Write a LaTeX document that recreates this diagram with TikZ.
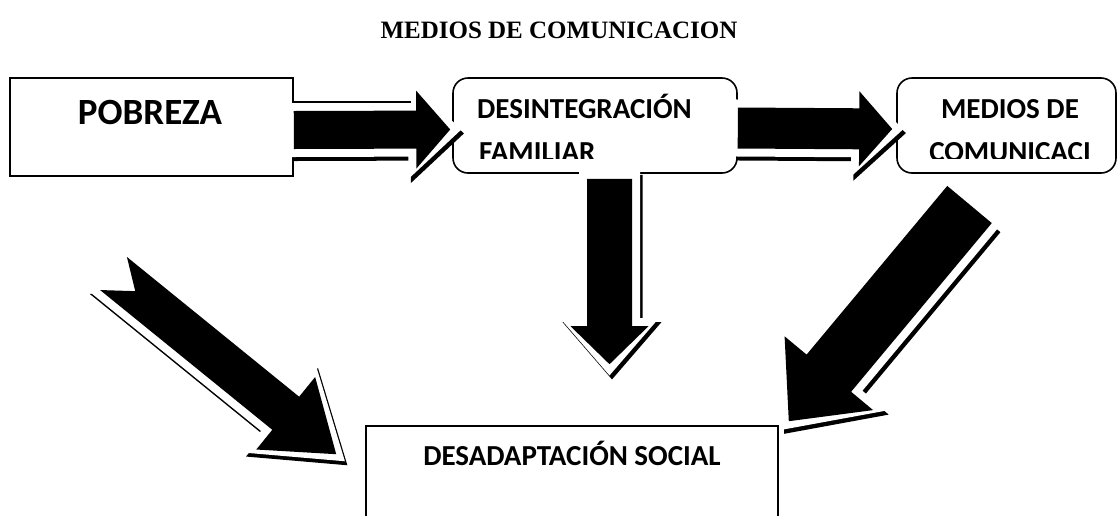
\documentclass[tikz,border=0pt]{standalone}
\usepackage{fontspec}
\setmainfont{Carlito}
\newfontfamily\titlefont{Liberation Serif}
\usetikzlibrary{calc}

% arrow outline: #1 tail, #2 tip, #3 shaft half width, #4 head half width, #5 head length, #6 notch, #7 path style
\newcommand{\arrowshape}[7]{%
  \coordinate (hbX) at ($(#2)!#5!(#1)$);
  \path[#7] ($(#1)!#3!90:(#2)$) -- ($(hbX)!#3!90:(#2)$) -- ($(hbX)!#4!90:(#2)$) -- (#2)
    -- ($(hbX)!#4!-90:(#2)$) -- ($(hbX)!#3!-90:(#2)$) -- ($(#1)!#3!-90:(#2)$)
    -- ($(#1)!#6!(#2)$) -- cycle;
}
\def\shx{2.5}
\def\shy{4}
% block arrow with white gap and shadow: #7 margin, #8 tail extension
\newcommand{\fancyarrow}[8]{%
  \pgfmathsetlengthmacro{\Wo}{#3+#7}%
  \pgfmathsetlengthmacro{\HWo}{#4+1.3*#7}%
  \pgfmathsetlengthmacro{\HLo}{#5+2.4*#7}%
  \pgfmathsetlengthmacro{\Eo}{1.4*#7}%
  \coordinate (Ao) at ($(#1)!-#8!(#2)$);
  \coordinate (To) at ($(#2)!-\Eo!(#1)$);
  \coordinate (As) at ($(Ao)+(\shx,\shy)$);
  \coordinate (Ts) at ($(To)+(\shx,\shy)$);
  \arrowshape{As}{Ts}{\Wo}{\HWo}{\HLo}{#6}{fill=black}
  \arrowshape{Ao}{To}{\Wo}{\HWo}{\HLo}{#6}{fill=white}
  \arrowshape{#1}{#2}{#3}{#4}{#5}{#6}{fill=black}
}

\begin{document}
\begin{tikzpicture}[x=1pt,y=-1pt,
  box/.style={draw=black, line width=1.6pt, fill=white, inner sep=0pt},
  rbox/.style={box, rounded corners=15pt},
  lbl/.style={font=\bfseries\fontsize{29}{34}\selectfont, inner sep=0pt}]
\useasboundingbox (0,0) rectangle (1118,515);
\clip (0,0) rectangle (1118,515);
\fill[white] (0,0) rectangle (1118,515);

\node[font=\titlefont\bfseries\fontsize{25}{30}\selectfont, anchor=base, inner sep=0pt] (title) at (559,38) {MEDIOS DE COMUNICACION};

\node[box, minimum width=283pt, minimum height=98pt] (pob) at (151.5,127) {};
\node[lbl, font=\bfseries\fontsize{37}{42}\selectfont, anchor=base] (pobt) at (150,124) {POBREZA};

\node[rbox, minimum width=284pt, minimum height=95pt] (des) at (595,125.5) {};
\begin{scope}
  \clip (453,78) rectangle (737,158);
  \node[lbl, anchor=base west] (dest1) at (477,118) {DESINTEGRACIÓN};
  \node[lbl, anchor=base west] (dest2) at (479,161) {FAMILIAR};
\end{scope}

\node[rbox, minimum width=219pt, minimum height=95pt] (med) at (1006.5,125.5) {};
\begin{scope}
  \clip (897,78) rectangle (1116,158);
  \node[lbl, anchor=base] (medt1) at (1010,118) {MEDIOS DE};
  \node[lbl, anchor=base] (medt2) at (1010,161) {COMUNICACI};
\end{scope}

\node[box, minimum width=412pt, minimum height=120pt] (soc) at (572,486) {};
\node[lbl, anchor=base] (soct) at (572,465) {DESADAPTACIÓN SOCIAL};

% arrow 1: pobreza -> desintegracion
\coordinate (a1s) at ($(pob.east)+(0,3)$);
\coordinate (a1e) at ($(des.west)+(-2,4)$);
\fancyarrow{a1s}{a1e}{19pt}{39pt}{34pt}{0pt}{8pt}{3pt}
\draw[line width=1.6pt] ($(pob.east)+(0,-25)$) -- ++(117,0);

% arrow 2: desintegracion -> medios
\coordinate (a2s) at ($(des.east)+(0,2.5)$);
\coordinate (a2e) at ($(med.west)+(-4,3.5)$);
\fancyarrow{a2s}{a2e}{20.5pt}{37.5pt}{33pt}{0pt}{8pt}{3pt}

% arrow 3: desintegracion down
\coordinate (a3s) at ($(des.south)+(14.5,5)$);
\coordinate (a3e) at ($(soc.north)+(37.5,-61)$);
\fancyarrow{a3s}{a3e}{22.5pt}{39pt}{38pt}{0pt}{8pt}{8pt}

% arrow 4: left diagonal
\coordinate (a4s) at (113.5,273.5);
\coordinate (a4e) at ($(soc.north west)+(-29,29)$);
\fancyarrow{a4s}{a4e}{21.3pt}{46.7pt}{65pt}{28pt}{8pt}{10pt}

% arrow 5: right diagonal
\coordinate (a5s) at (969.5,204.5);
\coordinate (a5e) at ($(soc.north east)+(10,-4)$);
\fancyarrow{a5s}{a5e}{29pt}{57.6pt}{62.5pt}{0pt}{8pt}{0pt}
\end{tikzpicture}
\end{document}
